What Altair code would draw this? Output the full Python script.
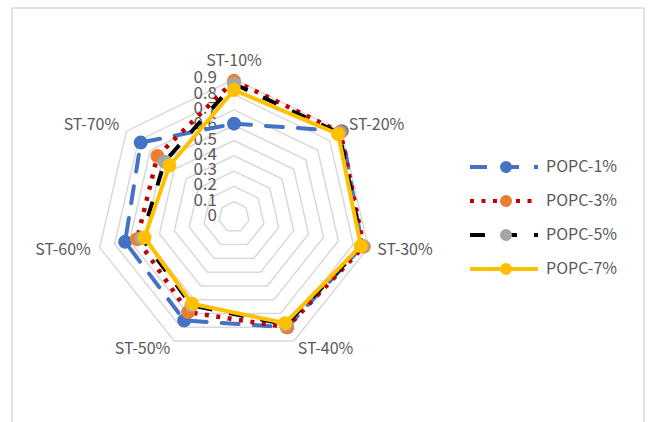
import math
import altair as alt
import pandas as pd

# ---- data -------------------------------------------------------------
categories = ["ST-10%", "ST-20%", "ST-30%", "ST-40%", "ST-50%", "ST-60%", "ST-70%"]
series_names = ["POPC-1%", "POPC-3%", "POPC-5%", "POPC-7%"]
popc_1 = [0.61, 0.90, 0.86, 0.80, 0.75, 0.73, 0.78]
popc_3 = [0.89, 0.89, 0.87, 0.80, 0.69, 0.65, 0.64]
popc_5 = [0.87, 0.88, 0.86, 0.78, 0.64, 0.62, 0.58]
popc_7 = [0.83, 0.87, 0.85, 0.77, 0.63, 0.60, 0.54]
tick_values = [0.0, 0.1, 0.2, 0.3, 0.4, 0.5, 0.6, 0.7, 0.8, 0.9]
tick_labels = ["0", "0.1", "0.2", "0.3", "0.4", "0.5", "0.6", "0.7", "0.8", "0.9"]

# ---- styling ----------------------------------------------------------
line_colors = ["#4472c4", "#c00000", "#000000", "#ffc000"]
marker_colors = ["#4472c4", "#ed7d31", "#a5a5a5", "#ffc000"]
dashes = [[17, 15], [4, 7.5], [15, 17], [1, 0]]
line_caps = ["round", "butt", "butt", "round"]
line_widths = [4, 4.5, 4, 4]
FONT = "Noto Sans CJK SC"
TEXT_COLOR = "#595959"
GRID_COLOR = "#d9d9d9"

# ---- layout (pixels) --------------------------------------------------
PAD_L, PAD_T = 12, 8
W, H = 632, 414
CX, CY = 234, 217          # page position of the radar centre
PX = 153                   # pixels per value unit

x_dom = [-(CX - PAD_L) / PX, (W - (CX - PAD_L)) / PX]
y_dom = [(CY - PAD_T - H) / PX, (CY - PAD_T) / PX]

n = len(categories)
angles = [2 * math.pi * k / n for k in range(n)]


def polar(v, k):
    return v * math.sin(angles[k]), v * math.cos(angles[k])


# series polygons (closed)
rows = []
for name, vals in zip(series_names, [popc_1, popc_3, popc_5, popc_7]):
    for i in range(n + 1):
        k = i % n
        x, y = polar(vals[k], k)
        rows.append({"series": name, "series_m": name, "cat": categories[k],
                     "value": vals[k], "x": x, "y": y, "ord": i})
series_df = pd.DataFrame(rows)

# grid rings 0.1 .. 0.9
ring_rows = []
for lvl in tick_values[1:]:
    for i in range(n + 1):
        x, y = polar(lvl, i % n)
        ring_rows.append({"ring": lvl, "x": x, "y": y, "ord": i})
ring_df = pd.DataFrame(ring_rows)

# category labels just outside the outer ring
lab_rows = []
for k, c in enumerate(categories):
    s = math.sin(angles[k])
    if abs(s) < 1e-9:
        side, r = "center", tick_values[-1] + 0.12
    else:
        side, r = ("left" if s > 0 else "right"), tick_values[-1] + 0.06
    x, y = polar(r, k)
    lab_rows.append({"label": c, "x": x, "y": y, "side": side})
lab_df = pd.DataFrame(lab_rows)

tick_df = pd.DataFrame({"v": tick_values, "t": tick_labels, "x0": [0.0] * len(tick_values)})

xs = alt.Scale(domain=x_dom, nice=False, zero=False)
ys = alt.Scale(domain=y_dom, nice=False, zero=False)
X = alt.X("x:Q", scale=xs, axis=None)
Y = alt.Y("y:Q", scale=ys, axis=None)

# chart-area frame (left, top and right edges; the bottom edge is off-page)
frame_df = pd.DataFrame({"edge": ["left", "top", "right"]})
frame = [
    alt.Chart(frame_df).transform_filter(alt.datum.edge == "left").mark_rule(
        color=GRID_COLOR, strokeWidth=1.5).encode(
        x=alt.value(0), y=alt.value(0), y2=alt.value(H + 10)),
    alt.Chart(frame_df).transform_filter(alt.datum.edge == "top").mark_rule(
        color=GRID_COLOR, strokeWidth=1.5).encode(
        x=alt.value(0), x2=alt.value(W), y=alt.value(0)),
    alt.Chart(frame_df).transform_filter(alt.datum.edge == "right").mark_rule(
        color=GRID_COLOR, strokeWidth=1.5).encode(
        x=alt.value(W), y=alt.value(0), y2=alt.value(H + 10)),
]

rings = alt.Chart(ring_df).mark_line(color=GRID_COLOR, strokeWidth=1.5).encode(
    x=X, y=Y, detail="ring:N", order="ord:Q")

ticks = alt.Chart(tick_df).mark_text(
    align="right", baseline="middle", dx=-17, dy=-1, font=FONT, fontSize=17,
    color=TEXT_COLOR).encode(
    x=alt.X("x0:Q", scale=xs, axis=None), y=alt.Y("v:Q", scale=ys, axis=None), text="t:N")

cat_layers = [
    alt.Chart(lab_df).transform_filter(alt.datum.side == side).mark_text(
        align=side, baseline="middle", font=FONT, fontSize=16, color=TEXT_COLOR
    ).encode(x=X, y=Y, text="label:N")
    for side in ["left", "right", "center"]
]

line_legend = alt.Legend(
    orient="none", legendX=484, legendY=151, title=None,
    symbolType="M-5.67,0L5.67,0", symbolSize=144, symbolStrokeWidth=4,
    labelOffset=34, labelFont=FONT, labelFontSize=16, labelColor=TEXT_COLOR,
    rowPadding=18,
)
marker_legend = alt.Legend(
    orient="none", legendX=486, legendY=151, title=None,
    symbolType="circle", symbolSize=144, symbolStrokeWidth=4,
    labelOffset=34, labelFont=FONT, labelFontSize=16, labelExpr="''",
    rowPadding=18,
)

stroke_enc = alt.Stroke("series:N", scale=alt.Scale(range=line_colors), legend=line_legend)
dash_enc = alt.StrokeDash("series:N", scale=alt.Scale(range=dashes), legend=line_legend)
fill_enc = alt.Fill("series_m:N", scale=alt.Scale(range=marker_colors), legend=marker_legend)

series_layers = []
for name, lw, cap in zip(series_names, line_widths, line_caps):
    base = alt.Chart(series_df).transform_filter(alt.datum.series == name)
    series_layers.append(
        base.mark_line(strokeWidth=lw, strokeCap=cap, strokeJoin="round").encode(
            x=X, y=Y, order="ord:Q", stroke=stroke_enc, strokeDash=dash_enc))
    series_layers.append(
        base.transform_filter(alt.datum.ord < n).mark_point(
            filled=True, shape="circle", size=196, opacity=1, strokeWidth=0).encode(
            x=X, y=Y, fill=fill_enc))

chart = alt.layer(*frame, rings, ticks, *cat_layers, *series_layers).properties(
    width=W, height=H,
    padding={"left": PAD_L, "top": PAD_T, "right": 648 - PAD_L - W, "bottom": 0},
    autosize=alt.AutoSizeParams(type="none"),
    background="white",
).configure_view(stroke=None)

chart.save("out.html", embed_options={"renderer": "svg", "actions": False})
